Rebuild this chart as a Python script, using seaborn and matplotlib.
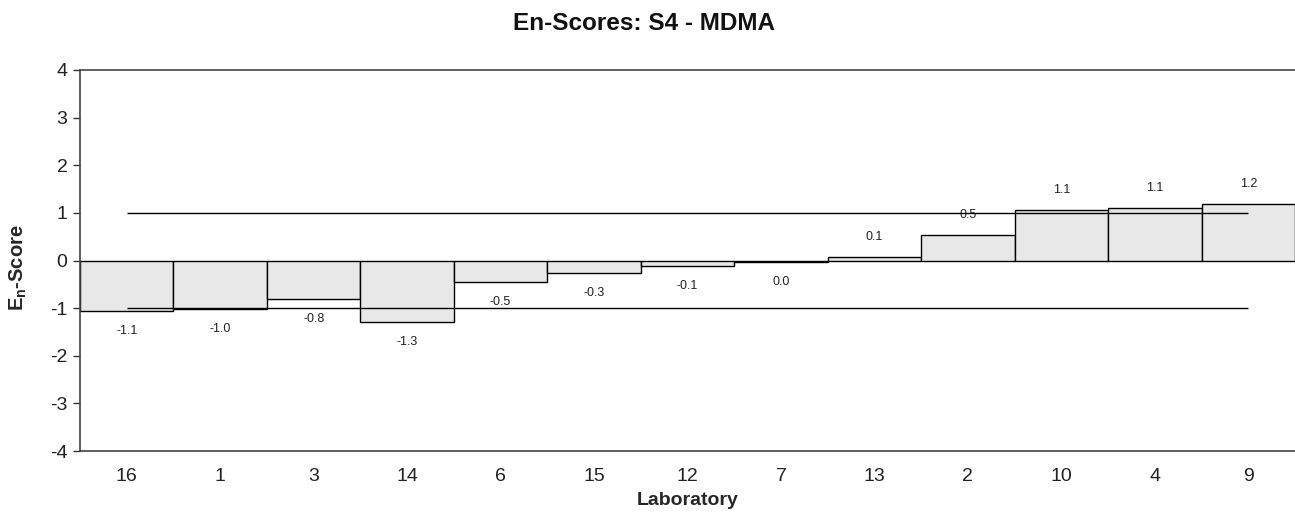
import matplotlib
matplotlib.use("Agg")
import matplotlib.pyplot as plt
import seaborn as sns
import pandas as pd

# Data
laboratories = ["16", "1", "3", "14", "6", "15", "12", "7", "13", "2", "10", "4", "9"]
en_scores = [-1.06, -1.02, -0.81, -1.30, -0.46, -0.26, -0.11, -0.03, 0.08, 0.53, 1.05, 1.10, 1.19]
score_labels = ["-1.1", "-1.0", "-0.8", "-1.3", "-0.5", "-0.3", "-0.1", "0.0", "0.1", "0.5", "1.1", "1.1", "1.2"]
limit_values = [1, -1]

sns.set_theme(style="white")
plt.rcParams["font.family"] = ["Liberation Sans", "DejaVu Sans"]
plt.rcParams["mathtext.default"] = "regular"
plt.rcParams["axes.unicode_minus"] = False

df = pd.DataFrame({"Laboratory": laboratories, "Score": en_scores})

fig = plt.figure(figsize=(12.95, 5.29), dpi=100)
ax = fig.add_axes([0.0618, 0.1474, 0.9382, 0.7203])

sns.barplot(data=df, x="Laboratory", y="Score", order=laboratories, width=1.0,
            color="#e8e8e8", saturation=1, edgecolor="black", linewidth=1.0, ax=ax)

n = len(laboratories)
ax.hlines(limit_values, 0, n - 1, colors="black", linewidth=1.0, zorder=3)

offset = 0.42
for i, (v, lab) in enumerate(zip(en_scores, score_labels)):
    y = v + offset if v >= 0 else v - offset
    ax.text(i, y, lab, ha="center", va="center", fontsize=9, color="#222222")

ax.set_xlim(-0.5, n - 0.5)
ax.set_ylim(-4, 4)
ax.set_yticks(range(-4, 5))
ax.tick_params(axis="y", which="major", left=True, length=5, width=1, color="#333333",
               labelsize=14, pad=4, labelcolor="#222222")
ax.tick_params(axis="x", length=0, labelsize=14, pad=12, labelcolor="#222222")

for side in ["top", "left", "bottom"]:
    ax.spines[side].set_visible(True)
    ax.spines[side].set_color("#444444")
    ax.spines[side].set_linewidth(1.2)
ax.spines["right"].set_visible(False)

ax.set_xlabel("Laboratory", fontsize=14, fontweight="bold", labelpad=5)
ax.set_ylabel("E$_{n}$-Score", fontsize=14.5, fontweight="bold")
ax.yaxis.set_label_coords(-0.042, 0.48)
fig.suptitle("En-Scores: S4 - MDMA", fontsize=17.5, fontweight="bold",
             x=0.497, y=1 - 23 / 529, va="center", color="#111111")

fig.savefig("out.png", dpi=100)
